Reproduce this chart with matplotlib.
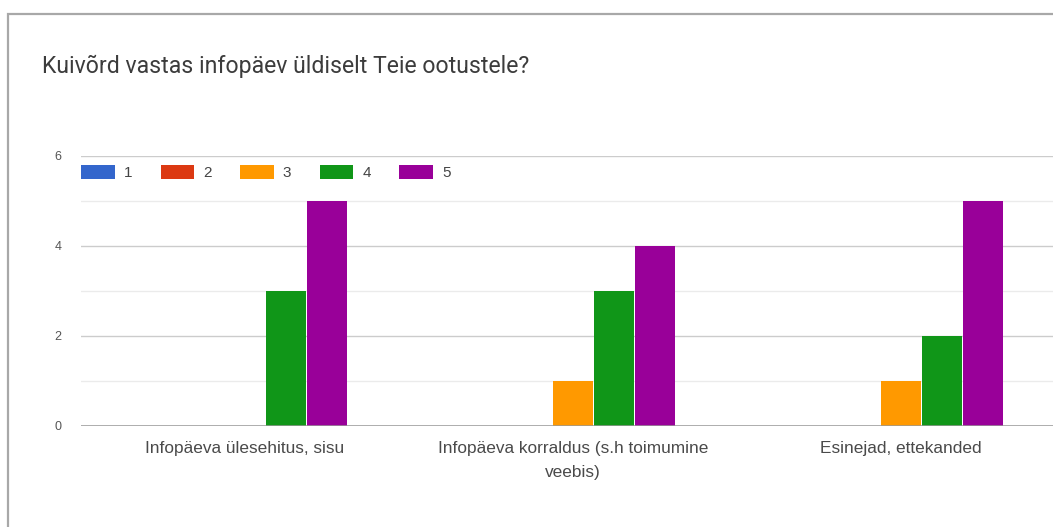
import matplotlib as mpl
mpl.use("Agg")
import numpy as np
import matplotlib.pyplot as plt
from matplotlib.patches import Rectangle

categories = ["Infopäeva ülesehitus, sisu",
              "Infopäeva korraldus (s.h toimumine\nveebis)",
              "Esinejad, ettekanded"]
series_names = ["1", "2", "3", "4", "5"]
values = {
    "1": [0, 0, 0],
    "2": [0, 0, 0],
    "3": [0, 1, 1],
    "4": [3, 3, 2],
    "5": [5, 4, 5],
}
colors = ["#3366cc", "#dc3912", "#ff9900", "#109618", "#990099"]
title = "Kuivõrd vastas infopäev üldiselt Teie ootustele?"

plt.rcParams['font.family'] = ['Liberation Sans', 'DejaVu Sans']

fig = plt.figure(figsize=(10.53, 5.27), dpi=100)

# card border (cut off at right and bottom)
fig.patches.append(Rectangle((8 / 1053, -0.1), 1.2, 1 - 14 / 527 + 0.1,
                             transform=fig.transFigure, fill=False,
                             edgecolor="#a8a8a8", linewidth=1.6))

fig.text(42 / 1053, 1 - 73 / 527, title, fontsize=16.6, color="#3c3c3c",
         va="baseline", ha="left", family=["Roboto", "DejaVu Sans"])

ax = fig.add_axes([81 / 1053, 1 - 426 / 527, 984 / 1053, 270 / 527])

x = np.arange(len(categories))
w = 0.122
step = 0.125
for k, name in enumerate(series_names):
    ax.bar(x + (k - 2) * step, values[name], width=w, color=colors[k],
           label=name, zorder=3)

ax.set_xlim(-0.5, 2.5)
ax.set_ylim(0, 6)
ax.set_yticks([0, 2, 4, 6])
ax.set_yticks([1, 3, 5], minor=True)
ax.grid(axis="y", which="major", color="#cccccc", linewidth=1, zorder=0)
ax.grid(axis="y", which="minor", color="#ebebeb", linewidth=1, zorder=0)
ax.axhline(0, color="#999999", linewidth=1.8, zorder=4)

for s in ax.spines.values():
    s.set_visible(False)

ax.set_xticks(x)
ax.set_xticklabels(categories, fontsize=12.4, color="#4a4a4a")
ax.tick_params(axis="x", length=0, pad=11)
ax.tick_params(axis="y", which="both", length=0, pad=14, labelsize=9,
               labelcolor="#555555")
for lab in ax.get_xticklabels():
    lab.set_linespacing(1.75)

ax.legend(loc="center left", bbox_to_anchor=(0, 0.94), ncol=5, frameon=False,
          fontsize=11, handlelength=2.2, handleheight=1.05, handletextpad=0.6,
          columnspacing=1.85, borderpad=0, borderaxespad=0, labelcolor="#444444")

fig.savefig("out.png", dpi=100)
